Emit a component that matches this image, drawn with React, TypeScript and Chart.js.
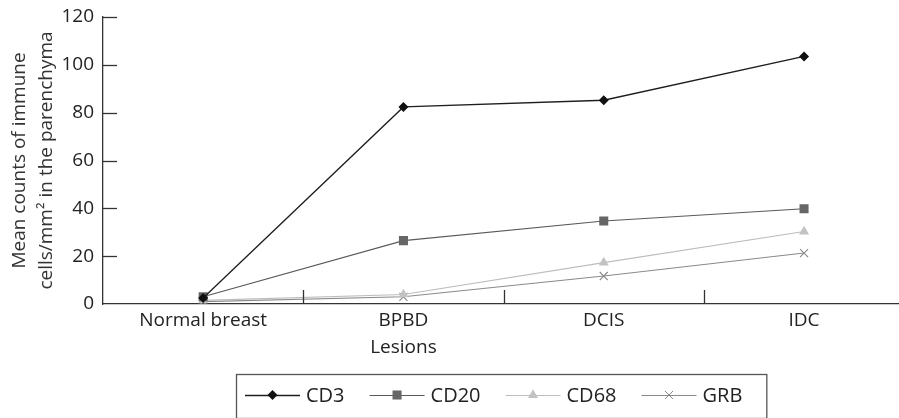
import { useEffect, useRef } from "react";
import { Chart, registerables } from "chart.js";

Chart.register(...registerables);

const categories = ["Normal breast", "BPBD", "DCIS", "IDC"];
const seriesNames = ["CD3", "CD20", "CD68", "GRB"];
const cd3 = [2.5, 82.4, 85.2, 103.5];
const cd20 = [3, 26.5, 34.7, 39.8];
const cd68 = [1.5, 4, 17.3, 30.3];
const grb = [1, 3, 11.7, 21.3];
const yTicks = [0, 20, 40, 60, 80, 100, 120];
const yTitle = ["Mean counts of immune", "cells/mm\u00b2 in the parenchyma"];
const xTitle = "Lesions";

const FONT = "'Open Sans', 'DejaVu Sans', sans-serif";
const INK = "#222";

const styles = [
  { line: "#1e1e1e", fill: "#111", point: "rectRot", radius: 5, width: 1.3 },
  { line: "#5a5a5a", fill: "#666", point: "rect", radius: 6.4, width: 1.1 },
  { line: "#bdbdbd", fill: "#c2c2c2", point: "triangle", radius: 5.8, width: 1.1 },
  { line: "#8a8a8a", fill: "#888", point: "crossRot", radius: 5.7, width: 1.1 },
];

function drawMarker(ctx: CanvasRenderingContext2D, st: any, x: number, y: number) {
  const r = st.radius;
  ctx.save();
  ctx.fillStyle = st.fill;
  ctx.strokeStyle = st.fill;
  ctx.lineWidth = 1;
  ctx.beginPath();
  if (st.point === "rectRot") {
    ctx.moveTo(x, y - r);
    ctx.lineTo(x + r, y);
    ctx.lineTo(x, y + r);
    ctx.lineTo(x - r, y);
    ctx.closePath();
    ctx.fill();
  } else if (st.point === "rect") {
    const s = r * Math.SQRT1_2;
    ctx.rect(x - s, y - s, 2 * s, 2 * s);
    ctx.fill();
  } else if (st.point === "triangle") {
    ctx.moveTo(x, y - r);
    ctx.lineTo(x + r * 0.866, y + r / 2);
    ctx.lineTo(x - r * 0.866, y + r / 2);
    ctx.closePath();
    ctx.fill();
  } else {
    const d = r * Math.SQRT1_2;
    ctx.moveTo(x - d, y - d);
    ctx.lineTo(x + d, y + d);
    ctx.moveTo(x + d, y - d);
    ctx.lineTo(x - d, y + d);
    ctx.stroke();
  }
  ctx.restore();
}

const decorPlugin = {
  id: "decor",
  afterDraw(chart: any) {
    const ctx = chart.ctx;
    const x = chart.scales.x;
    const y = chart.scales.y;
    const area = chart.chartArea;
    ctx.save();
    ctx.strokeStyle = "#333";
    ctx.lineWidth = 1.3;
    yTicks.forEach((v) => {
      if (v === 0) return;
      const py = Math.round(y.getPixelForValue(v)) + 0.5;
      ctx.beginPath();
      ctx.moveTo(area.left, py);
      ctx.lineTo(area.left + 14, py);
      ctx.stroke();
    });
    for (let i = 0; i < categories.length - 1; i++) {
      const px = Math.round((x.getPixelForTick(i) + x.getPixelForTick(i + 1)) / 2) + 0.5;
      ctx.beginPath();
      ctx.moveTo(px, area.bottom);
      ctx.lineTo(px, area.bottom - 14);
      ctx.stroke();
    }
    ctx.fillStyle = INK;
    ctx.font = `19px ${FONT}`;
    ctx.textAlign = "center";
    ctx.textBaseline = "middle";
    ctx.fillText(xTitle, x.getPixelForTick(1), area.bottom + 44);

    const top = 374;
    const bottom = 418;
    const left = 236;
    const cy = 395;
    ctx.font = `20px ${FONT}`;
    ctx.textAlign = "left";
    let cx = left + 9;
    const segW = 55;
    const gap = 25;
    chart.data.datasets.forEach((ds: any, i: number) => {
      const st = styles[i];
      ctx.strokeStyle = st.line;
      ctx.lineWidth = st.width;
      ctx.beginPath();
      ctx.moveTo(cx, cy + 0.5);
      ctx.lineTo(cx + segW, cy + 0.5);
      ctx.stroke();
      drawMarker(ctx, st, cx + segW / 2, cy);
      ctx.fillStyle = INK;
      ctx.fillText(ds.label, cx + segW + 6, cy + 1);
      const tw = ctx.measureText(ds.label).width;
      cx += segW + 6 + tw + gap;
    });
    const right = cx - gap + 24;
    ctx.strokeStyle = "#555";
    ctx.lineWidth = 1.3;
    ctx.strokeRect(left + 0.5, top + 0.5, right - left, bottom - top);
    ctx.restore();
  },
};

export default function App() {
  const ref = useRef<HTMLCanvasElement | null>(null);
  useEffect(() => {
    if (!ref.current) return;
    const values = [cd3, cd20, cd68, grb];
    const chart = new Chart(ref.current, {
      type: "line",
      data: {
        labels: categories,
        datasets: seriesNames.map((name, i) => ({
          label: name,
          data: values[i],
          borderColor: styles[i].line,
          borderWidth: styles[i].width,
          backgroundColor: styles[i].fill,
          pointBackgroundColor: styles[i].fill,
          pointBorderColor: styles[i].fill,
          pointBorderWidth: styles[i].point === "crossRot" ? 1.1 : 0,
          pointStyle: styles[i].point as any,
          pointRadius: styles[i].radius,
          pointHoverRadius: styles[i].radius,
          tension: 0,
          fill: false,
        })),
      },
      options: {
        responsive: false,
        animation: false,
        devicePixelRatio: 1,
        layout: { padding: { top: 17, left: 0, right: 0, bottom: 0 } },
        plugins: { legend: { display: false }, tooltip: { enabled: false } },
        scales: {
          x: {
            type: "category",
            offset: true,
            grid: { display: false, drawTicks: false },
            border: { display: true, color: "#333", width: 1.3 },
            ticks: { color: INK, font: { family: FONT, size: 19 }, padding: 5, maxRotation: 0 },
            afterFit: (s: any) => {
              s.height = 114;
            },
          },
          y: {
            min: 0,
            max: 120,
            grid: { display: false, drawTicks: false },
            border: { display: true, color: "#333", width: 1.3 },
            ticks: {
              color: INK,
              font: { family: FONT, size: 19 },
              padding: 9,
              stepSize: 20,
              callback: (v: any) => (yTicks.includes(Number(v)) ? String(v) : ""),
            },
            title: {
              display: true,
              text: yTitle,
              color: "#333",
              font: { family: FONT, size: 19, lineHeight: 1.42 },
              padding: { top: 6.5, bottom: 0 },
            },
            afterFit: (s: any) => {
              s.width = 103;
              s.paddingTop = 0;
              s.paddingBottom = 0;
            },
          },
        },
      },
      plugins: [decorPlugin],
    });
    return () => chart.destroy();
  }, []);

  return (
    <div style={{ position: "absolute", left: 0, top: 0, width: 899, height: 418, overflow: "hidden", background: "#fff" }}>
      <canvas ref={ref} width={911} height={418} style={{ display: "block" }} />
    </div>
  );
}
